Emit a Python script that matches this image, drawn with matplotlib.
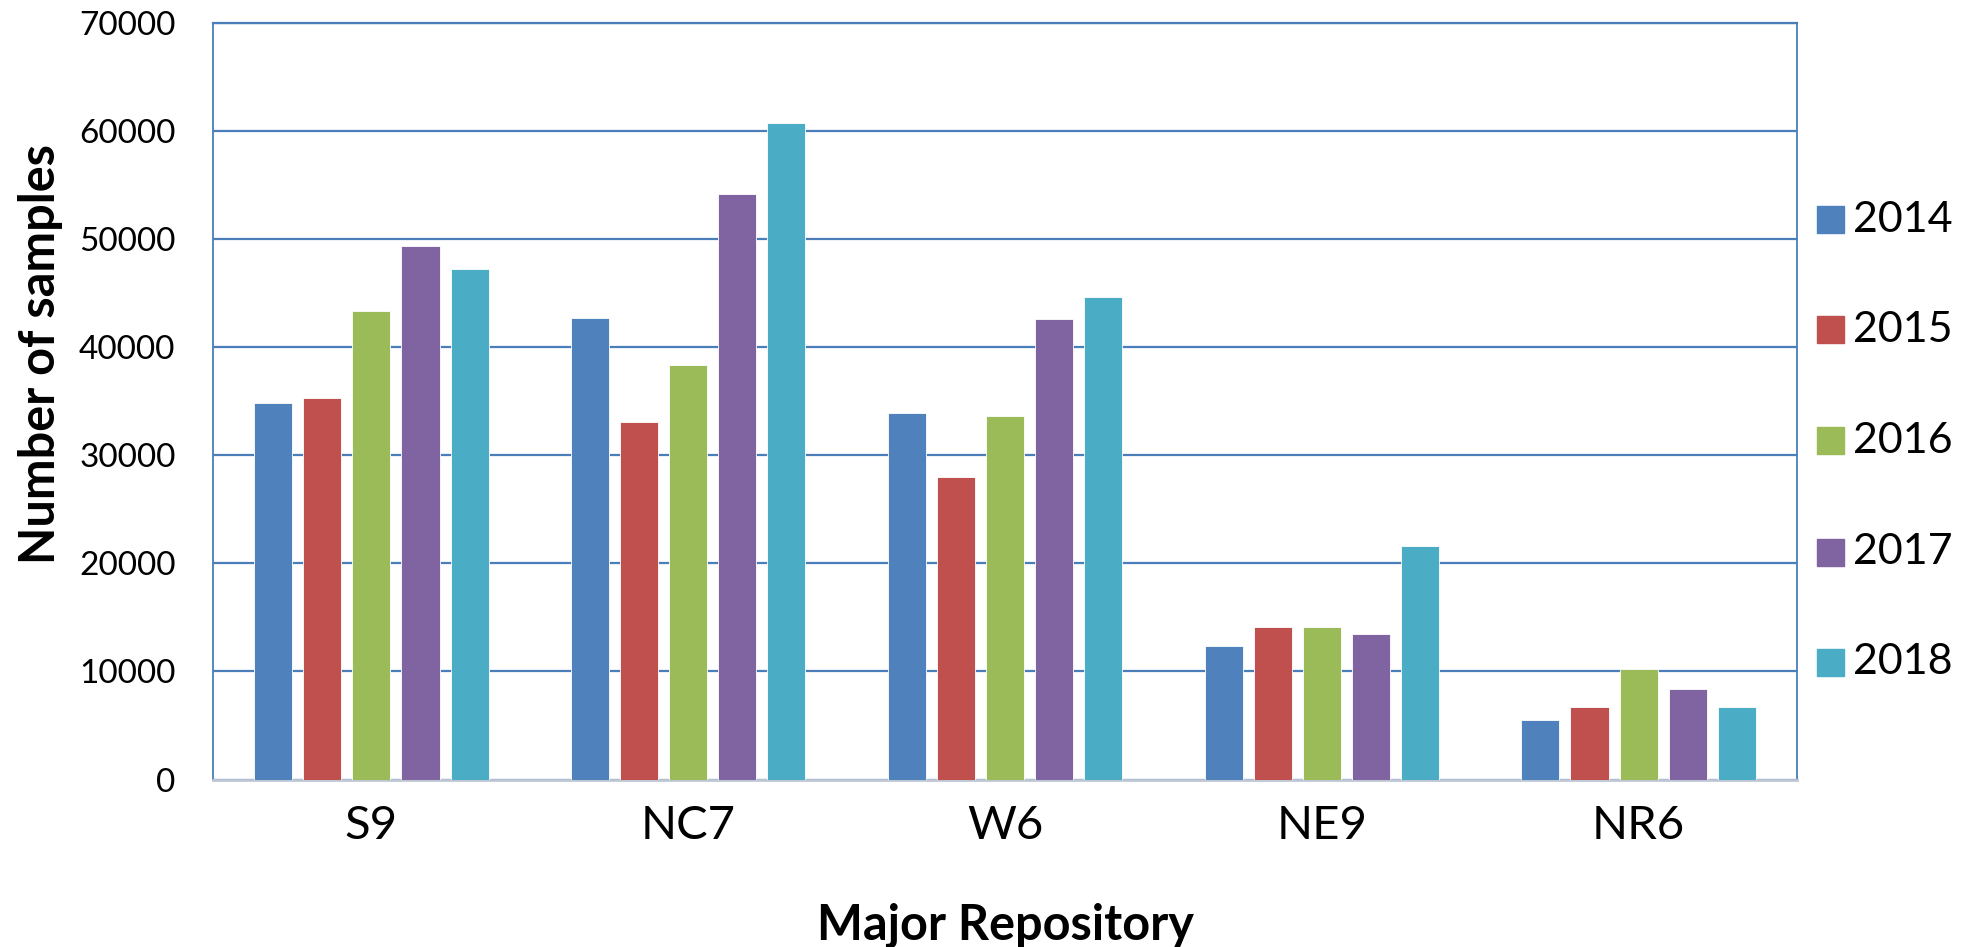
import matplotlib
matplotlib.use("Agg")
import matplotlib.pyplot as plt
from matplotlib.patches import Rectangle
import numpy as np

# Samples per major repository and year
repositories = ["S9", "NC7", "W6", "NE9", "NR6"]
years = ["2014", "2015", "2016", "2017", "2018"]
samples_2014 = [34850, 42700, 33900, 12400, 5500]
samples_2015 = [35350, 33100, 28000, 14100, 6750]
samples_2016 = [43350, 38350, 33650, 14150, 10200]
samples_2017 = [49400, 54200, 42600, 13450, 8400]
samples_2018 = [47250, 60750, 44650, 21650, 6750]
series = [samples_2014, samples_2015, samples_2016, samples_2017, samples_2018]

colors = ["#4F81BD", "#C0504D", "#9BBB59", "#8064A2", "#4BACC6"]
grid_color = "#4A7EBB"

plt.rcParams["font.family"] = ["Lato", "DejaVu Sans"]

W, H = 1969, 947
fig = plt.figure(figsize=(W / 100, H / 100), dpi=100)
ax = fig.add_axes([213 / W, 1 - 779.5 / H, (1797 - 213) / W, (779.5 - 23.3) / H])

x = np.arange(len(repositories))
bar_w = 0.12
pitch = 0.155
for j, (vals, c) in enumerate(zip(series, colors)):
    ax.bar(x + (j - 2) * pitch, vals, width=bar_w, color=c, zorder=3,
           edgecolor="white", linewidth=0.6)

ax.set_xlim(-0.5, len(repositories) - 0.5)
ax.set_ylim(0, 70000)
ax.set_yticks(np.arange(0, 70001, 10000))
ax.set_yticklabels([str(v) for v in range(0, 70001, 10000)], fontsize=24)
ax.set_xticks(x)
ax.set_xticklabels(repositories, fontsize=34)
ax.tick_params(axis="y", length=0, pad=27)
ax.tick_params(axis="x", length=0, pad=18)

ax.yaxis.grid(True, color=grid_color, linewidth=1.6, zorder=0)
ax.set_axisbelow(True)
for side in ("left", "right", "top"):
    ax.spines[side].set_color(grid_color)
    ax.spines[side].set_linewidth(1.3)
ax.spines["top"].set_linewidth(1.6)
ax.spines["bottom"].set_color("#BFC7D5")
ax.spines["bottom"].set_linewidth(2)

fig.text(41 / W, 1 - 354 / H, "Number of samples", rotation=90,
         ha="center", va="center", fontsize=35, fontweight="bold")
fig.text(1005 / W, 1 - 925 / H, "Major Repository",
         ha="center", va="center", fontsize=35, fontweight="bold")

# Legend: colour squares with year labels on the right side
legend_y = [220, 330, 441, 552, 662]
sq = 27
for yc, c, lab in zip(legend_y, colors, years):
    fig.add_artist(Rectangle((1817 / W, 1 - (yc + sq / 2) / H), sq / W, sq / H,
                             transform=fig.transFigure, color=c))
    fig.text(1853 / W, 1 - yc / H, lab, ha="left", va="center", fontsize=31)

fig.savefig("out.png", dpi=100)
